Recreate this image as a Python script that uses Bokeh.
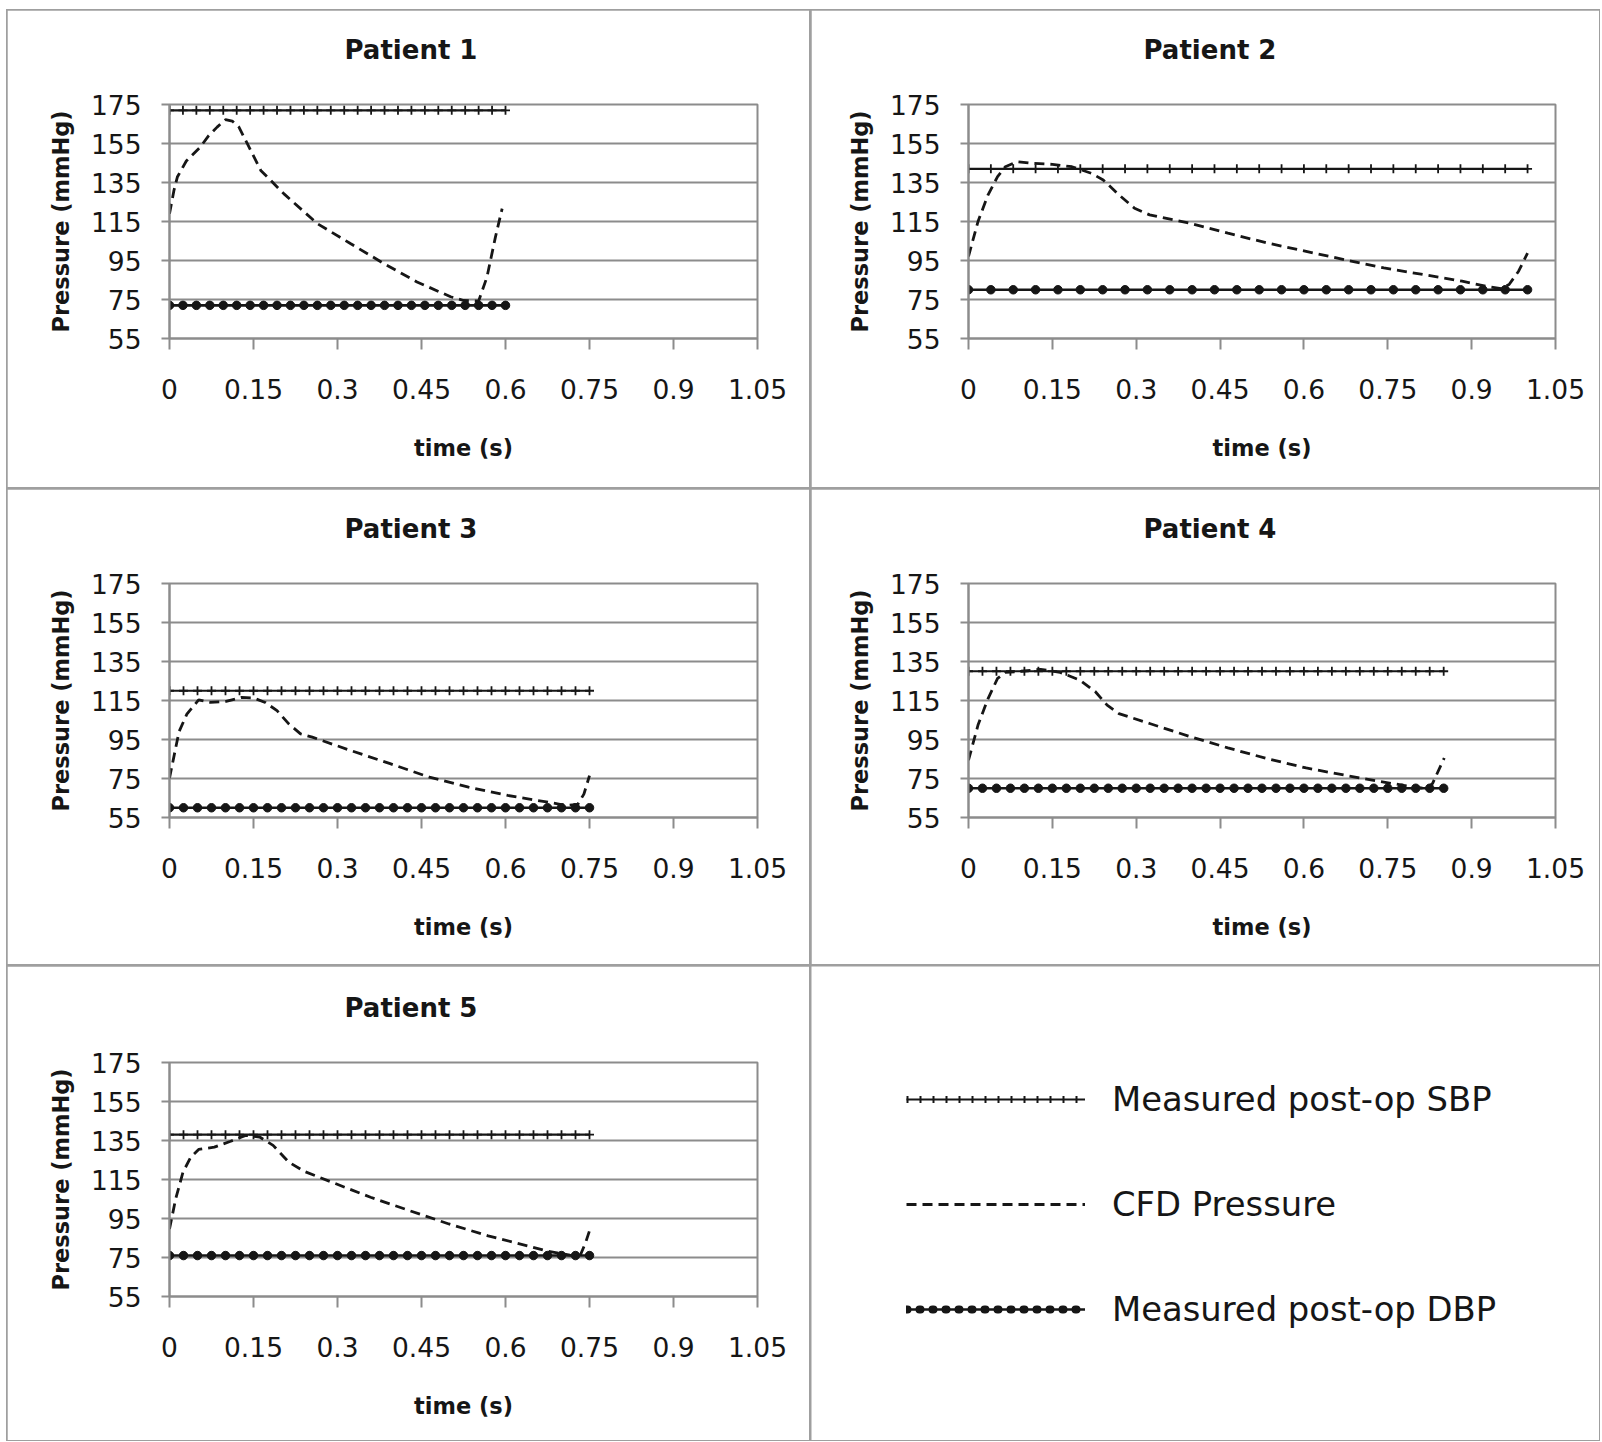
import numpy as np
from bokeh.plotting import figure
from bokeh.layouts import row, column
from bokeh.models import FixedTicker, Legend, LegendItem
from bokeh.core.properties import value
from bokeh.embed import file_html
from bokeh.resources import INLINE

# ---------------- data ----------------
patient_names = ["Patient 1", "Patient 2", "Patient 3", "Patient 4", "Patient 5"]
series_names = ["Measured post-op SBP", "CFD Pressure", "Measured post-op DBP"]

measured_sbp = [172, 142, 120, 130, 138]
measured_dbp = [72, 80, 60, 70, 76]
cycle_end = [0.6, 1.0, 0.75, 0.85, 0.75]
sample_count = [26, 26, 31, 35, 31]

cfd_time_1 = [0, 0.008, 0.014, 0.03, 0.055, 0.07, 0.085, 0.1, 0.112, 0.124, 0.139,
              0.163, 0.204, 0.264, 0.323, 0.383, 0.442, 0.502, 0.525, 0.552,
              0.567, 0.582, 0.594]
cfd_pressure_1 = [119, 131, 137.8, 146, 153.2, 159, 163.4, 167.2, 166.5, 163.4, 154.9,
                  141.2, 129.3, 113.9, 103.7, 93.4, 84, 76.4, 74.5, 74.2,
                  86.6, 107, 121.6]

cfd_time_2 = [0, 0.017, 0.035, 0.052, 0.066, 0.087, 0.115, 0.15, 0.185, 0.22, 0.241,
              0.269, 0.297, 0.324, 0.394, 0.464, 0.534, 0.604, 0.673, 0.743, 0.813,
              0.883, 0.925, 0.953, 0.967, 0.984, 1.0]
cfd_pressure_2 = [97.1, 115, 128.7, 138, 143.1, 145.7, 144.8, 144.3, 143.1, 139.7, 136.3,
                  128.7, 121.8, 118.4, 114.2, 109, 104, 99.7, 95.4, 91.2, 87.8,
                  84.4, 81.8, 80.6, 82.7, 89.5, 98.8]

cfd_time_3 = [0, 0.017, 0.031, 0.052, 0.073, 0.101, 0.129, 0.15, 0.171, 0.192, 0.213,
              0.234, 0.255, 0.324, 0.394, 0.464, 0.534, 0.604, 0.673, 0.708, 0.729,
              0.74, 0.75]
cfd_pressure_3 = [75.2, 99, 108, 115.3, 114, 114.6, 116.6, 116.3, 114, 109.8, 103,
                  97.9, 96.2, 89.3, 82.6, 75.7, 70.6, 66.3, 63, 61.2, 61.7,
                  67, 76.5]

cfd_time_4 = [0, 0.017, 0.035, 0.052, 0.066, 0.094, 0.129, 0.164, 0.199, 0.227, 0.248,
              0.269, 0.324, 0.394, 0.464, 0.534, 0.604, 0.673, 0.729, 0.778, 0.82,
              0.83, 0.851]
cfd_pressure_4 = [84.4, 102.4, 116, 126.3, 129.4, 130, 131, 129.4, 125.5, 119.5, 112.6,
                  108.3, 103.2, 96.7, 90.7, 85.2, 80.4, 76.7, 73.8, 71.5, 69.8,
                  72.4, 85.5]

cfd_time_5 = [0, 0.011, 0.024, 0.038, 0.052, 0.08, 0.108, 0.136, 0.161, 0.185, 0.213,
              0.241, 0.29, 0.359, 0.429, 0.499, 0.569, 0.639, 0.673, 0.715, 0.733,
              0.743, 0.753]
cfd_pressure_5 = [89.6, 105, 118.7, 126.5, 130.4, 131.6, 134.5, 137.6, 136.8, 132.5, 123.9,
                  119.1, 113.6, 105.9, 99, 92.2, 86.1, 81, 78.4, 76.2, 75.8,
                  82.6, 91.3]

cfd_times = [cfd_time_1, cfd_time_2, cfd_time_3, cfd_time_4, cfd_time_5]
cfd_pressures = [cfd_pressure_1, cfd_pressure_2, cfd_pressure_3, cfd_pressure_4, cfd_pressure_5]

x_ticks = [0, 0.15, 0.3, 0.45, 0.6, 0.75, 0.9, 1.05]
x_tick_labels = ["0", "0.15", "0.3", "0.45", "0.6", "0.75", "0.9", "1.05"]
y_ticks = [55, 75, 95, 115, 135, 155, 175]

# ---------------- styling / layout ----------------
FONT = "DejaVu Sans"
INK = "#161616"
GRID = "#8c8c8c"
PANEL_LINE = "#9f9f9f"

COL_W = [802, 788]
ROW_H = [477, 475, 474]
BORDER_LEFT = [162, 157]
FRAME_W = [588, 587]
BORDER_TOP = [94, 94, 96]
FRAME_H = 234


def make_panel(i):
    r, c = divmod(i, 2)
    w, h = COL_W[c], ROW_H[r]
    bl, bt = BORDER_LEFT[c], BORDER_TOP[r]
    p = figure(width=w, height=h, x_range=(0, 1.05), y_range=(55, 175),
               output_backend="svg", toolbar_location=None,
               min_border_left=bl, min_border_top=bt,
               min_border_right=w - bl - FRAME_W[c],
               min_border_bottom=h - bt - FRAME_H,
               x_axis_label="time (s)", y_axis_label="Pressure (mmHg)",
               title=patient_names[i], margin=(1, 1, 1, 1))
    p.background_fill_color = "white"
    p.border_fill_color = "white"
    p.outline_line_color = GRID
    p.outline_line_width = 2

    p.title.align = "left"
    p.title.offset = 175
    p.title.standoff = 40
    p.title.padding = dict(left=0, right=0, top=0, bottom=20)
    p.title.vertical_align = "bottom"
    p.title.text_font = FONT
    p.title.text_font_size = "26px"
    p.title.text_font_style = "bold"
    p.title.text_color = INK

    p.xaxis.ticker = FixedTicker(ticks=x_ticks)
    p.xaxis.major_label_overrides = dict(zip(x_ticks, x_tick_labels))
    p.yaxis.ticker = FixedTicker(ticks=y_ticks)
    p.xgrid.visible = False
    p.ygrid.grid_line_color = GRID
    p.ygrid.grid_line_width = 2

    for ax in (p.xaxis[0], p.yaxis[0]):
        ax.axis_line_color = GRID
        ax.axis_line_width = 2
        ax.major_tick_line_color = GRID
        ax.major_tick_line_width = 2
        ax.major_tick_in = 0
        ax.minor_tick_line_color = None
        ax.major_label_text_font = FONT
        ax.major_label_text_font_size = "26.5px"
        ax.major_label_text_color = INK
        ax.axis_label_text_font = FONT
        ax.axis_label_text_font_size = "22.5px"
        ax.axis_label_text_font_style = "bold"
        ax.axis_label_text_color = INK
    p.xaxis.major_tick_out = 11
    p.xaxis.major_label_standoff = 29
    p.xaxis.axis_label_standoff = 33
    p.yaxis.major_tick_out = 8
    p.yaxis.major_label_standoff = 20
    p.yaxis.axis_label_standoff = 14

    t = np.linspace(0, cycle_end[i], sample_count[i])
    sbp = np.full(sample_count[i], measured_sbp[i])
    dbp = np.full(sample_count[i], measured_dbp[i])

    p.line(t, sbp, line_color=INK, line_width=2.2)
    p.scatter(t, sbp, marker="cross", size=9, line_color=INK, line_width=1.8)
    p.line(t, dbp, line_color=INK, line_width=2.6)
    p.scatter(t, dbp, marker="circle", size=8.5, line_color=INK, fill_color=INK)
    p.line(cfd_times[i], cfd_pressures[i], line_color=INK, line_width=2.8, line_dash="10 6")
    return p


panels = [make_panel(i) for i in range(5)]

# legend panel: its frame fills the whole panel
lp = figure(width=COL_W[1], height=ROW_H[2], x_range=(0, 1), y_range=(0, 1),
            output_backend="svg", toolbar_location=None, min_border=0,
            x_axis_location=None, y_axis_location=None, margin=(1, 1, 1, 1))
lp.grid.visible = False
lp.outline_line_color = None
lp.background_fill_color = "white"
lp.border_fill_color = "white"

# legend proxies: a single undefined point each, so nothing shows in the panel itself
nan_pt = [np.nan]
sbp_line = lp.line(nan_pt, nan_pt, line_color=INK, line_width=2.2)
sbp_marks = lp.line(nan_pt, nan_pt, line_color=INK, line_width=7, line_dash="2 11")
cfd_line = lp.line(nan_pt, nan_pt, line_color=INK, line_width=2.8, line_dash="10 6")
dbp_line = lp.line(nan_pt, nan_pt, line_color=INK, line_width=2.6)
dbp_marks = lp.line(nan_pt, nan_pt, line_color=INK, line_width=8, line_dash="1 12", line_cap="round")

legend = Legend(items=[
    LegendItem(label=value(series_names[0]), renderers=[sbp_line, sbp_marks]),
    LegendItem(label=value(series_names[1]), renderers=[cfd_line]),
    LegendItem(label=value(series_names[2]), renderers=[dbp_line, dbp_marks]),
], location=(95, 111), glyph_width=179, glyph_height=40, label_height=40,
    spacing=65, label_standoff=27, padding=0, margin=0,
    border_line_color=None, background_fill_alpha=0,
    label_text_font=FONT, label_text_font_size="33.8px", label_text_color=INK)
lp.add_layout(legend)

layout = column(row(panels[0], panels[1]),
                row(panels[2], panels[3]),
                row(panels[4], column(lp)),
                margin=(9, 0, 0, 6),
                styles={"background-color": PANEL_LINE})

open("out.html", "w").write(file_html(layout, INLINE))
